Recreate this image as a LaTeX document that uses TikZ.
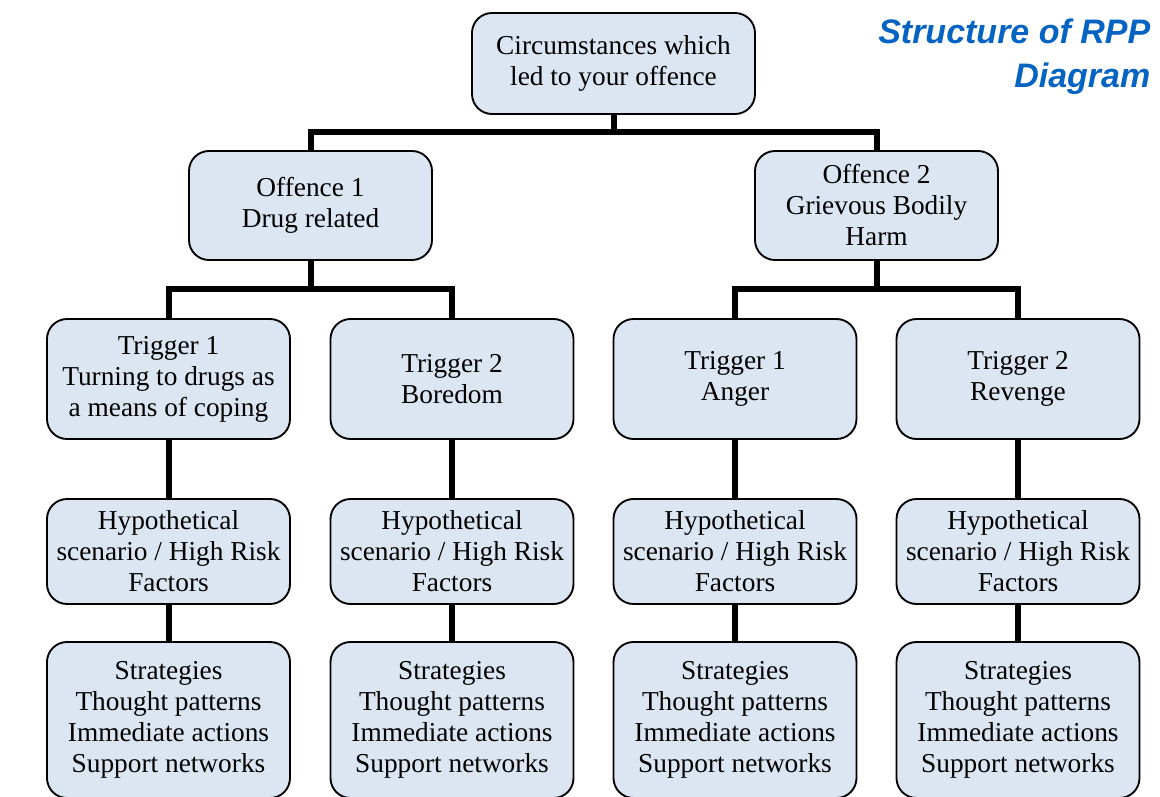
\documentclass[tikz,border=0pt]{standalone}
\usepackage{fontspec}
\setmainfont{Liberation Serif}
\newfontfamily\titlefont{Liberation Sans}
\usetikzlibrary{positioning}

\definecolor{boxfill}{HTML}{DCE6F2}
\definecolor{titleblue}{HTML}{0563C1}

\begin{document}
\begin{tikzpicture}[x=0.75pt, y=-0.75pt,
    % Define node styles
    box/.style={rectangle, rounded corners=15pt, draw=black, line width=1.4pt,
                fill=boxfill, inner sep=0pt, minimum width=182.25pt, align=center,
                font=\fontsize{20.5}{23.25}\selectfont},
    rootbox/.style={box, minimum width=212.25pt, minimum height=75.75pt},
    offbox/.style={box, minimum height=81.75pt},
    trigbox/.style={box, minimum height=90pt},
    riskbox/.style={box, minimum height=78.75pt},
    stratbox/.style={box, minimum height=117pt},
    link/.style={line width=4.5pt, line join=miter}
]
    \useasboundingbox (0,0) rectangle (1160,796);

    % Title
    \node[anchor=north east, align=right, text=titleblue,
          font=\titlefont\fontsize{25.5}{33}\selectfont\bfseries\itshape]
          (title) at (1155,14) {Structure of RPP\\Diagram};

    % Create nodes
    \node[rootbox] (root) at (613.5,63.5) {Circumstances which\\led to your offence};
    \node[offbox] (off1) at (310.5,205.5) {Offence 1\\Drug related};
    \node[offbox] (off2) at (876.5,205.5) {Offence 2\\Grievous Bodily\\Harm};

    \node[trigbox] (trig1) at (168.5,379) {Trigger 1\\Turning to drugs as\\a means of coping};
    \node[trigbox] (trig2) at (452,379) {Trigger 2\\Boredom};
    \node[trigbox] (trig3) at (735,379) {Trigger 1\\Anger};
    \node[trigbox] (trig4) at (1018,379) {Trigger 2\\Revenge};

    \foreach \i/\x in {1/168.5, 2/452, 3/735, 4/1018} {
        \node[riskbox] (risk\i) at (\x,551.5) {Hypothetical\\scenario / High Risk\\Factors};
        \node[stratbox] (strat\i) at (\x,720) {Strategies\\Thought patterns\\Immediate actions\\Support networks};
    }

    % Bus points
    \coordinate (bus0) at (613.5,132);
    \coordinate (bus1) at (310.5,289);
    \coordinate (bus2) at (876.5,289);

    % Draw connectors between nodes
    \draw[link] (root.south) -- (bus0) -| (off1.north);
    \draw[link] (bus0) -| (off2.north);
    \draw[link] (off1.south) -- (bus1) -| (trig1.north);
    \draw[link] (bus1) -| (trig2.north);
    \draw[link] (off2.south) -- (bus2) -| (trig3.north);
    \draw[link] (bus2) -| (trig4.north);
    \foreach \i in {1,...,4} {
        \draw[link] (trig\i.south) -- (risk\i.north);
        \draw[link] (risk\i.south) -- (strat\i.north);
    }
\end{tikzpicture}
\end{document}
